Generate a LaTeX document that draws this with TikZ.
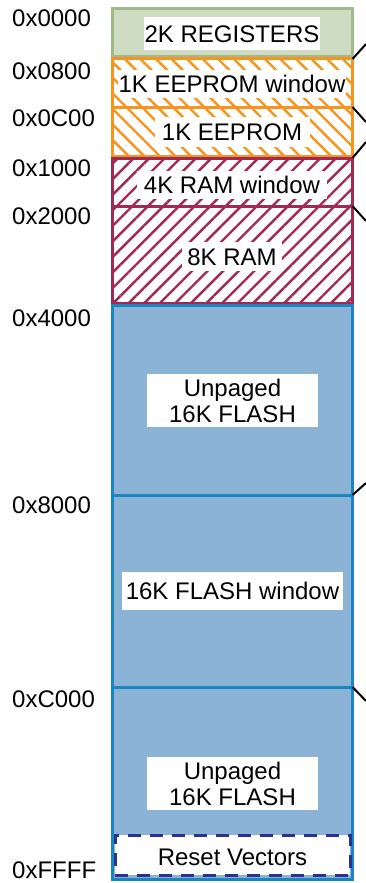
\documentclass[tikz,border=0pt]{standalone}
\usepackage{fontspec}
\setmainfont{Liberation Sans}
\usetikzlibrary{patterns.meta}

\definecolor{regfill}{RGB}{207,220,196}
\definecolor{regline}{RGB}{160,186,138}
\definecolor{eeline}{RGB}{247,148,30}
\definecolor{ramline}{RGB}{163,40,84}
\definecolor{flashfill}{RGB}{139,179,214}
\definecolor{flashline}{RGB}{26,134,191}
\definecolor{vecline}{RGB}{43,49,144}

\begin{document}
\begin{tikzpicture}[x=1pt,y=-1pt,
	every node/.style={font=\fontsize{24}{26}\selectfont},
	area/.style={draw,line width=3pt,inner sep=0pt,outer sep=0pt,
		anchor=north west,minimum width=240.5pt},
	regarea/.style={area,draw=regline,fill=regfill},
	eearea/.style={area,draw=eeline,preaction={fill=white},
		pattern={Lines[angle=-45,distance=11pt,line width=2.4pt]},pattern color=eeline},
	ramarea/.style={area,draw=ramline,preaction={fill=white},
		pattern={Lines[angle=45,distance=11pt,line width=2.4pt]},pattern color=ramline},
	flasharea/.style={area,draw=flashline,fill=flashfill},
	tag/.style={fill=white,inner sep=0pt,text height=17.5pt,text depth=0pt},
	addr/.style={anchor=base west,inner sep=0pt},
	link/.style={line width=2pt,black}]

	\useasboundingbox (0,0) rectangle (365,883);

	% memory areas
	\node [regarea,minimum height=48pt] (regs) at (112,9) {};
	\node [eearea,minimum height=48pt] (eewin) at (112,59) {};
	\node [eearea,minimum height=49pt] (ee) at (112,107) {};
	\node [ramarea,minimum height=48pt] (ramwin) at (112,158) {};
	\node [ramarea,minimum height=97pt] (ram) at (112,206) {};
	\node [flasharea,minimum height=190pt] (flashlo) at (112,305) {};
	\node [flasharea,minimum height=192pt] (flashwin) at (112,495) {};
	\node [flasharea,minimum height=192pt] (flashhi) at (112,687) {};
	\node [area,draw=vecline,fill=white,dash pattern=on 13pt off 9pt,
		minimum width=235pt,minimum height=40pt] (vec) at (115,835) {};

	% labels
	\node [tag,minimum width=176pt,minimum height=33pt] (tregs) at (232,33.5) {2K REGISTERS};
	\node [tag,minimum width=228pt,minimum height=27pt] (teewin) at (232,84) {1K EEPROM window};
	\node [tag,minimum width=155pt,minimum height=30pt] (tee) at (232,131.5) {1K EEPROM};
	\node [tag,minimum width=190pt,minimum height=28pt] (tramwin) at (232,185) {4K RAM window};
	\node [tag,minimum width=100pt,minimum height=29pt] (tram) at (232,256.5) {8K RAM};
	\node [fill=white,align=center,inner sep=0pt,minimum width=171pt,minimum height=53pt]
		(tflashlo) at (232.5,400.5) {Unpaged\\16K FLASH};
	\node [tag,minimum width=221pt,minimum height=38pt] (tflashwin) at (232.5,591) {16K FLASH window};
	\node [fill=white,align=center,inner sep=0pt,minimum width=171pt,minimum height=53pt]
		(tflashhi) at (232.5,783.5) {Unpaged\\16K FLASH};
	\node [tag] (tvec) at (232.5,856.5) {Reset Vectors};

	% addresses
	\node [addr] (a0) at (12,27) {0x0000};
	\node [addr] (a1) at (12,79) {0x0800};
	\node [addr] (a2) at (12,126) {0x0C00};
	\node [addr] (a3) at (12,176) {0x1000};
	\node [addr] (a4) at (12,224) {0x2000};
	\node [addr] (a5) at (12,326) {0x4000};
	\node [addr] (a6) at (12,513) {0x8000};
	\node [addr] (a7) at (12,707) {0xC000};
	\node [addr] (a8) at (12,878) {0xFFFF};

	% links going off to the right
	\coordinate (l1) at (366,44);
	\coordinate (l2) at (366,122);
	\coordinate (l3) at (366,142);
	\coordinate (l4) at (366,221);
	\coordinate (l5) at (366,483);
	\coordinate (l6) at (366,701);
	\draw [link] (eewin.north east) -- (l1);
	\draw [link] (ee.north east) -- (l2);
	\draw [link] (ramwin.north east) -- (l3);
	\draw [link] (ram.north east) -- (l4);
	\draw [link] (flashwin.north east) -- (l5);
	\draw [link] (flashhi.north east) -- (l6);
\end{tikzpicture}
\end{document}
